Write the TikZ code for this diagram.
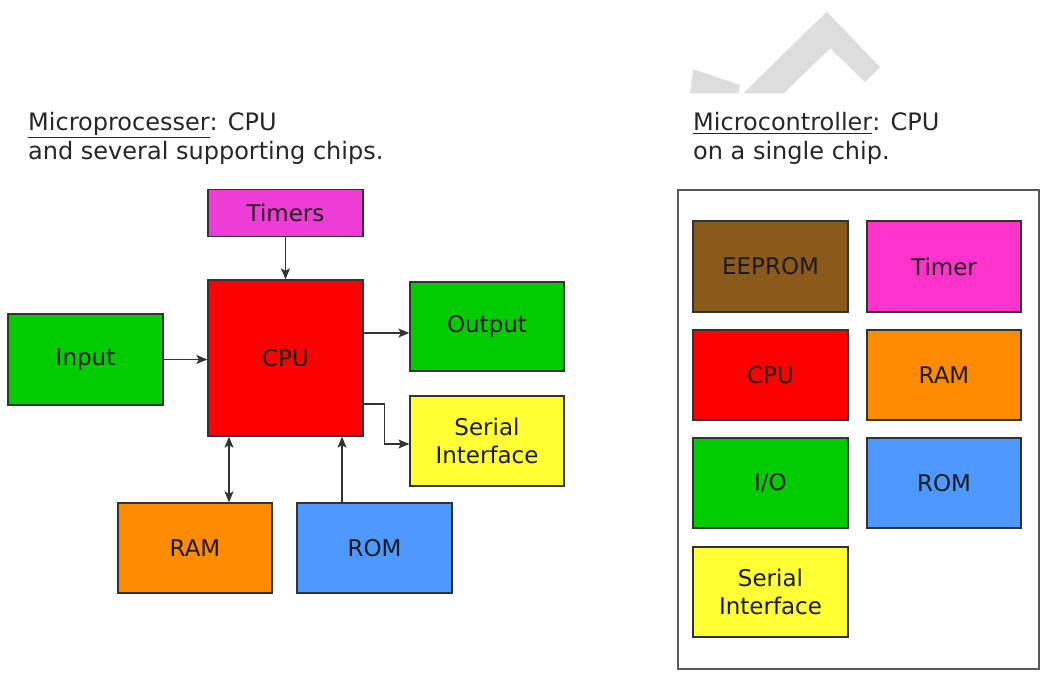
\documentclass[tikz,border=0pt]{standalone}
\usepackage{fontspec}
\setmainfont{DejaVu Sans}
\usetikzlibrary{arrows.meta}
\definecolor{cmag}{HTML}{EE3CD6}
\definecolor{cmag2}{HTML}{FF33CC}
\definecolor{cred}{HTML}{FF0000}
\definecolor{cgreen}{HTML}{00CC00}
\definecolor{cyellow}{HTML}{FFFF33}
\definecolor{corange}{HTML}{FF8C00}
\definecolor{cblue}{HTML}{4D99FF}
\definecolor{cbrown}{HTML}{8B5A1A}
\definecolor{ctext}{HTML}{1A1A1A}
\definecolor{cwm}{HTML}{DDDDDD}
\begin{document}
\begin{tikzpicture}[x=1pt,y=-1pt,
  chip/.style={draw=black!80, line width=1.3pt, text=ctext, align=center, inner sep=0pt,
     font=\fontsize{23}{28}\selectfont},
  ttl/.style={anchor=base west, inner sep=0pt, text=black!85, font=\fontsize{24}{28}\selectfont},
  tip/.style={Stealth[length=11pt,width=9pt,inset=2.5pt]},
  arr/.style={draw=black!80, line width=1.3pt, -{Stealth[length=11pt,width=9pt,inset=2.5pt]}},
  arrboth/.style={draw=black!80, line width=1.3pt, {Stealth[length=11pt,width=9pt,inset=2.5pt]}-{Stealth[length=11pt,width=9pt,inset=2.5pt]}}]
\useasboundingbox (0,0) rectangle (1046,679);
\fill[white] (0,0) rectangle (1046,679);
% watermark shapes
\fill[cwm] (826.7,11.7) -- (880,67) -- (865,82) -- (830,48.3) -- (784,93.3) -- (743.3,93.3) -- cycle;
\fill[cwm] (693.3,69.3) -- (740,85) -- (738.3,93.3) -- (690,93.3) -- cycle;
% titles
\node[ttl] (t1a) at (28,131) {\underline{Microprocesser}: CPU};
\node[ttl] (t1b) at (28,160) {and several supporting chips.};
\node[ttl] (t2a) at (693,131) {\underline{Microcontroller}: CPU};
\node[ttl] (t2b) at (693,160) {on a single chip.};
% left diagram
\node[chip, fill=cmag, minimum width=155pt, minimum height=47pt] (timers) at (285.5,213) {Timers};
\node[chip, fill=cred, minimum width=155pt, minimum height=156pt] (cpu) at (285.5,358) {CPU};
\node[chip, fill=cgreen, minimum width=155pt, minimum height=91pt] (input) at (85.5,359.5) {Input};
\node[chip, fill=cgreen, minimum width=154pt, minimum height=89pt] (output) at (487,326.5) {Output};
\node[chip, fill=cyellow, minimum width=154pt, minimum height=90pt] (serial) at (487,441) {Serial\\Interface};
\node[chip, fill=corange, minimum width=154pt, minimum height=90pt] (ram) at (195,548) {RAM};
\node[chip, fill=cblue, minimum width=155pt, minimum height=90pt] (rom) at (374.5,548) {ROM};
\draw[arr] (timers.south) -- (cpu.north);
\draw[arr] (input.east) -- (input.east -| cpu.west);
\draw[arr] ([yshift=-6.5pt]output.west -| cpu.east) -- ([yshift=-6.5pt]output.west);
\draw[arr] ([yshift=-46pt]cpu.east) -- ++(21,0) |- ([yshift=-3pt]serial.west);
\draw[arrboth] ([xshift=34pt]ram.north) -- ([xshift=34pt]ram.north |- cpu.south);
\draw[arr] ([xshift=-32.5pt]rom.north) -- ([xshift=-32.5pt]rom.north |- cpu.south);
% right diagram
\node[draw=black!65, line width=1.3pt, minimum width=361pt, minimum height=479pt, inner sep=0pt] (mcu) at (858.5,429.5) {};
\node[chip, fill=cbrown, minimum width=155pt, minimum height=91pt] (eeprom) at (770.5,266.5) {EEPROM};
\node[chip, fill=cmag2, minimum width=154pt, minimum height=91pt] (timer2) at (944,266.5) {Timer};
\node[chip, fill=cred, minimum width=155pt, minimum height=90pt] (cpu2) at (770.5,375) {CPU};
\node[chip, fill=corange, minimum width=154pt, minimum height=90pt] (ram2) at (944,375) {RAM};
\node[chip, fill=cgreen, minimum width=155pt, minimum height=90pt] (io) at (770.5,483) {I/O};
\node[chip, fill=cblue, minimum width=154pt, minimum height=90pt] (rom2) at (944,483) {ROM};
\node[chip, fill=cyellow, minimum width=155pt, minimum height=90pt] (serial2) at (770.5,592) {Serial\\Interface};
\end{tikzpicture}
\end{document}
